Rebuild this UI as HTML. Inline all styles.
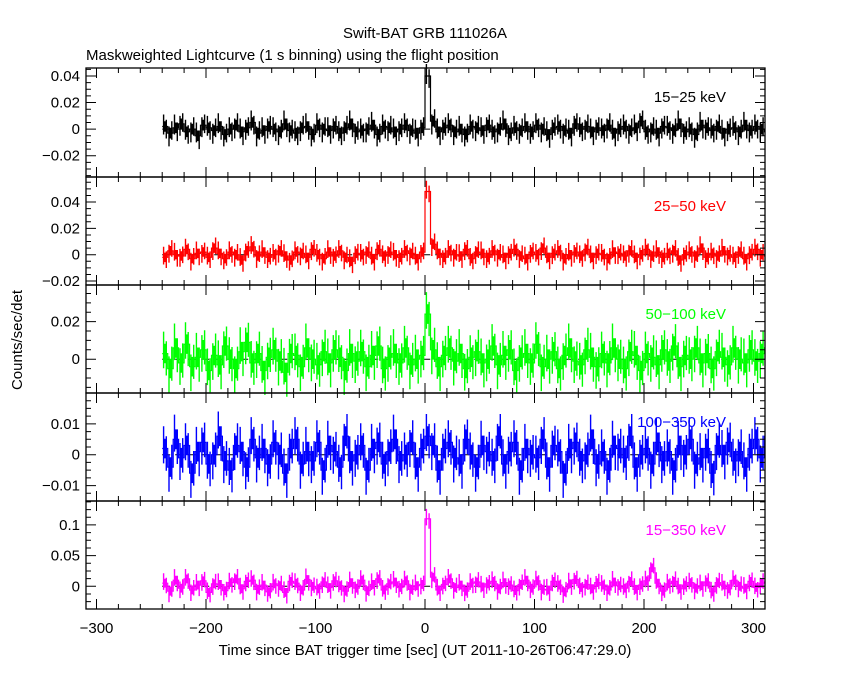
<!DOCTYPE html>
<html><head><meta charset="utf-8"><style>
body{margin:0;background:#fff;width:850px;height:680px;overflow:hidden}
svg text{font-family:"Liberation Sans",sans-serif;font-size:15px}
</style></head><body>
<svg id="chart" width="850" height="680" xmlns="http://www.w3.org/2000/svg">
<defs><clipPath id="clipx"><rect x="86" y="0" width="679" height="680"/></clipPath></defs>
<text x="425" y="38" text-anchor="middle">Swift-BAT GRB 111026A</text>
<text x="86" y="60">Maskweighted Lightcurve (1 s binning) using the flight position</text>
<text transform="translate(22,340) rotate(-90)" text-anchor="middle">Counts/sec/det</text>
<text x="425" y="655" text-anchor="middle">Time since BAT trigger time [sec] (UT 2011-10-26T06:47:29.0)</text>
</svg>
<script>
// values in units of 0.001 counts/sec/det, 5 s bins starting at t=-240
const binStart = -240, binWidth = 5;
const xTicks = [-300,-200,-100,0,100,200,300];
const band1 = [2,-3,1,4,-2,0,-5,3,1,-1, 2,-4,0,3,-2,1,5,-3,-1,2, 0,-2,4,-1,-3,1,2,-4,3,0, -1,2,-3,1,4,-2,-1,0,3,-4, 2,1,-2,0,3,-1,-3,1,40,6, -2,1,3,-2,0,-4,2,1,-1,3, -2,0,4,-3,1,-1,2,-2,3,0, -4,1,2,-1,-3,4,0,2,-2,1, -1,3,-3,0,2,-1,1,6,-2,0, -3,2,1,-1,4,-2,0,-4,3,1, -1,2,-3,0,1,-2,3,-1,2,0,-2];
const band2 = [-2,3,0,-1,4,-3,1,2,-2,5, 1,-3,2,0,-4,3,6,-1,2,-2, 0,3,-1,-4,2,1,-2,4,0,-3, 2,-1,3,-2,-5,1,0,2,-3,4, -1,2,0,-2,3,1,-3,2,48,8, 1,-2,3,0,-1,4,-3,2,1,-2, 3,0,-2,1,4,-1,-3,2,0,5, -2,1,3,-3,0,2,-1,4,-2,1, 0,-3,2,1,-1,3,-2,0,4,-1, 2,-2,1,3,-4,0,2,-1,5,-2, 1,-1,3,0,-2,2,-3,1,4,0,-1];
const band3 = [3,-5,6,-2,8,-4,1,5,-6,2, -3,7,0,-5,4,9,-2,3,-6,1, 5,-1,-7,3,2,-4,6,0,-3,4, -2,5,1,-6,3,-1,4,-4,2,7, -5,1,3,-2,6,-3,0,2,24,5, -4,2,6,-1,3,-5,1,4,-2,0, 7,-3,2,5,-6,1,3,-2,8,-4, 0,4,-5,2,6,-1,-3,5,1,-4, 3,-2,6,0,-5,4,2,-6,3,1, -3,5,-1,7,-4,2,0,6,-2,3, -5,4,1,-3,6,0,-2,5,-1,3,6];
const band4 = [2,-4,5,-1,3,-6,1,4,-3,0, 6,-2,-5,3,1,-4,5,-1,2,-3, 4,0,-6,2,5,-3,1,-2,4,-5, 3,1,-4,6,-2,0,3,-5,2,4, -3,1,5,-2,0,4,-4,2,6,3, -5,2,4,-1,-3,5,0,-4,3,1, -2,6,-3,1,4,-5,2,0,-1,5, -4,3,1,-6,2,4,-2,0,5,-3, 1,-5,3,2,-1,6,-4,0,2,-3, 4,-2,1,-5,3,0,5,-3,-1,2, -6,3,0,4,-2,1,-4,2,5,-1,6];
const band5 = [5,-8,10,-3,12,-6,2,9,-10,4, 3,-7,6,12,-4,8,10,-5,2,-9, 4,1,-10,8,5,-6,11,0,-4,7, -2,9,1,-8,6,-3,10,-7,3,12, -6,4,7,-2,9,-5,1,3,110,15, -6,3,12,-2,2,-8,5,7,-1,4, 8,-4,6,2,-7,3,10,-3,9,-5, -6,8,2,-9,4,11,-2,3,-4,6, 2,-6,7,1,-3,8,-5,2,9,30, 5,-8,4,8,-4,2,6,-3,1,7, -9,6,2,-4,10,0,-3,8,-2,5,7];
const errs = [10,9,13,8,18];
const labels = ["15\u221225 keV","25\u221250 keV","50\u2212100 keV","100\u2212350 keV","15\u2212350 keV"];
const yTickVals = [[-20,0,20,40],[-20,0,20,40],[0,20],[-10,0,10],[0,50,100]];
const yTickText = [["\u22120.02","0","0.02","0.04"],["\u22120.02","0","0.02","0.04"],["0","0.02"],["\u22120.01","0","0.01"],["0","0.05","0.1"]];
const cfg = [
 {top:68,bot:177,ymax:46,ymin:-36,col:"#000"},
 {top:177,bot:285,ymax:59,ymin:-23,col:"#f00"},
 {top:285,bot:393,ymax:39.5,ymin:-18,col:"#0f0"},
 {top:393,bot:501,ymax:20,ymin:-15,col:"#00f"},
 {top:501,bot:609,ymax:139,ymin:-37,col:"#f0f"}];
const series=[band1,band2,band3,band4,band5];
const svg=document.getElementById('chart'), NS="http://www.w3.org/2000/svg";
const L=86,R=765;
const xs=t=>425+t*1.095;
function mk(tag,at,parent){const e=document.createElementNS(NS,tag);for(const k in at)e.setAttribute(k,at[k]);(parent||svg).appendChild(e);return e;}
cfg.forEach((c,p)=>{
 const g=mk('g',{});
 
 
 const ys=v=>c.top+(c.ymax-v)/(c.ymax-c.ymin)*(c.bot-c.top);
 const d=series[p], e=errs[p];
 let path='', bars='';
 d.forEach((v,i)=>{const x0=xs(binStart+i*binWidth),x1=xs(binStart+(i+1)*binWidth),w=x1-x0;
  const big=Math.abs(v)>3*e;
  path+=(i?'L':'M')+x0.toFixed(1)+','+ys(v).toFixed(1)+'L'+x1.toFixed(1)+','+ys(v).toFixed(1);
  const k=[0.9,0.5,1.0,0.6][i%4];
  bars+='M'+(x0+w*0.25).toFixed(1)+','+ys(v+e*k).toFixed(1)+'V'+ys(v-e*(1.5-k)).toFixed(1);
  bars+='M'+(x0+w*0.75).toFixed(1)+','+ys(v+e*(1.4-k)).toFixed(1)+'V'+ys(v-e*k).toFixed(1);
  if(!big){bars+='M'+(x0+w*0.5).toFixed(1)+','+ys(v+e*0.4).toFixed(1)+'V'+ys(v-e*0.4).toFixed(1);}
 });
 const dg=mk('g',{'clip-path':'url(#clipx)'},g);
 
 
 const zl=mk('line',{x1:xs(-240),x2:R,y1:ys(0),y2:ys(0),stroke:'#000','stroke-width':1,'stroke-dasharray':'8,5'},dg);
 
 
 const b=mk('path',{d:bars,stroke:c.col,'stroke-width':1.4,fill:'none'},dg);
 
 
 const s=mk('path',{d:path,stroke:c.col,'stroke-width':1.2,fill:'none'},dg);
 
 
 const fr=mk('rect',{x:L,y:c.top,width:R-L,height:c.bot-c.top,fill:'none',stroke:'#000','stroke-width':1.3},g);
 
 
 let tk='';
 for(let t=-300;t<=300;t+=20){const x=xs(t),len=(t%100===0)?10:5;tk+='M'+x+','+c.bot+'v-'+len+'M'+x+','+c.top+'v'+len;}
 const span=yTickVals[p][1]-yTickVals[p][0];
 for(let v=Math.ceil(c.ymin/(span/4))*(span/4);v<=c.ymax;v+=span/4){const y=ys(v),maj=yTickVals[p].some(q=>Math.abs(q-v)<1e-6);const len=maj?10:5;tk+='M'+L+','+y+'h'+len+'M'+R+','+y+'h-'+len;}
 const tp=mk('path',{d:tk,stroke:'#000','stroke-width':1,fill:'none'},g);
 
 
 yTickVals[p].forEach((v,i)=>{const t=mk('text',{x:L-6,y:ys(v)+5,'text-anchor':'end'},g);t.textContent=yTickText[p][i];
  
  });
 const lb=mk('text',{x:726,y:c.top+34,'text-anchor':'end',fill:c.col},g);lb.textContent=labels[p];
 
 
});
xTicks.forEach(t=>{const e=mk('text',{x:xs(t),y:633,'text-anchor':'middle'});e.textContent=t<0?'\u2212'+(-t):String(t);
 
 });
</script>
</body></html>
